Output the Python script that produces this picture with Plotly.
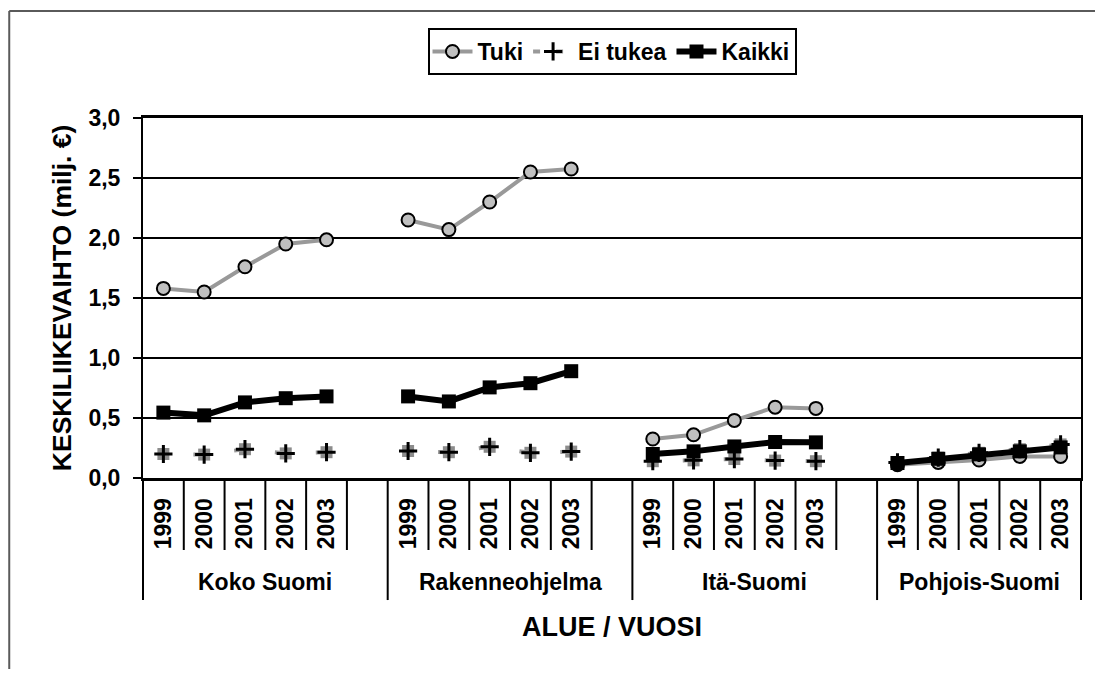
import plotly.graph_objects as go

# ---- data ----
groups = ["Koko Suomi", "Rakenneohjelma", "Itä-Suomi", "Pohjois-Suomi"]
years = ["1999", "2000", "2001", "2002", "2003"]
tuki = [1.58, 1.55, 1.76, 1.95, 1.985,
        2.15, 2.07, 2.30, 2.55, 2.575,
        0.325, 0.36, 0.48, 0.59, 0.58,
        0.11, 0.13, 0.15, 0.18, 0.18]
ei_tukea = [0.20, 0.195, 0.24, 0.205, 0.215,
            0.225, 0.215, 0.26, 0.21, 0.22,
            0.14, 0.147, 0.158, 0.145, 0.14,
            0.13, 0.17, 0.21, 0.24, 0.28]
kaikki = [0.545, 0.522, 0.63, 0.665, 0.68,
          0.68, 0.638, 0.755, 0.79, 0.89,
          0.20, 0.222, 0.263, 0.30, 0.297,
          0.125, 0.16, 0.197, 0.222, 0.255]
y_ticks = [0, 0.5, 1.0, 1.5, 2.0, 2.5, 3.0]

# ---- category positions (each group = 5 years + one empty slot, last group without slot) ----
n_years = len(years)
slot = n_years + 1
n_cat = slot * len(groups) - 1
pos = [slot * g + j for g in range(len(groups)) for j in range(n_years)]


def with_gaps(vals):
    xs, ys = [], []
    for g in range(len(groups)):
        for j in range(n_years):
            k = g * n_years + j
            xs.append(pos[k])
            ys.append(vals[k])
        xs.append(None)
        ys.append(None)
    return xs, ys


FONT = "Liberation Sans, Arial, sans-serif"
GRAY = "#999999"
fig = go.Figure()

# Tuki
xt, yt = with_gaps(tuki)
fig.add_trace(go.Scatter(
    x=xt, y=yt, name="Tuki", mode="lines+markers",
    line=dict(color=GRAY, width=4),
    marker=dict(symbol="circle", size=13, color="#c0c0c0",
                line=dict(color="black", width=2)),
))

# Ei tukea: gray square background + dashed line with black cross
xe, ye = with_gaps(ei_tukea)
fig.add_trace(go.Scatter(
    x=xe, y=ye, name="Ei tukea", mode="markers", showlegend=False,
    legendgroup="ei",
    marker=dict(symbol="square", size=12, color="#8c8c8c"),
))
fig.add_trace(go.Scatter(
    x=xe, y=ye, name="Ei tukea", mode="lines+markers", showlegend=False,
    legendgroup="ei",
    line=dict(color=GRAY, width=4, dash="0px,30px,11px,0px"),
    marker=dict(symbol="cross-thin", size=13, color="black",
                line=dict(color="black", width=3)),
))
# legend entry for Ei tukea
fig.add_trace(go.Scatter(
    x=[None], y=[None], name="Ei tukea", mode="lines+markers", legendgroup="ei",
    line=dict(color=GRAY, width=4, dash="7px,16px"),
    marker=dict(symbol="cross-thin", size=13, color="black",
                line=dict(color="black", width=3)),
))

# Kaikki
xk, yk = with_gaps(kaikki)
fig.add_trace(go.Scatter(
    x=xk, y=yk, name="Kaikki", mode="lines+markers",
    line=dict(color="black", width=6),
    marker=dict(symbol="square", size=14, color="black"),
))

# ---- separators below the x axis ----
shapes = []
group_bounds = [slot * g - 0.5 for g in range(len(groups))] + [n_cat - 0.5]
for b in range(n_cat + 1):
    xb = b - 0.5
    xp = (xb + 0.5) / n_cat
    y_end = -0.339 if xb in group_bounds else -0.2
    shapes.append(dict(type="line", xref="paper", yref="paper",
                       x0=xp, x1=xp, y0=0, y1=y_end,
                       line=dict(color="black", width=2)))
# outer frame of the picture (left and top edges visible)
shapes.append(dict(type="line", xref="paper", yref="paper",
                   x0=-0.1426, x1=-0.1426, y0=1.297, y1=-0.6,
                   line=dict(color="#5a5a5a", width=2)))
shapes.append(dict(type="line", xref="paper", yref="paper",
                   x0=-0.1426, x1=1.1, y0=1.297, y1=1.297,
                   line=dict(color="#5a5a5a", width=2)))

annotations = []
for g, name in enumerate(groups):
    lo = group_bounds[g]
    hi = group_bounds[g + 1]
    cx = ((lo + hi) / 2 + 0.5) / n_cat
    annotations.append(dict(text=name, xref="paper", yref="paper", x=cx, y=-0.289,
                            xanchor="center", yanchor="middle", showarrow=False,
                            font=dict(family=FONT, size=23, color="black", weight="bold")))
annotations.append(dict(text="ALUE / VUOSI", xref="paper", yref="paper", x=0.5, y=-0.414,
                        xanchor="center", yanchor="middle", showarrow=False,
                        font=dict(family=FONT, size=27, color="black", weight="bold")))
annotations.append(dict(text="KESKILIIKEVAIHTO (milj. €)", xref="paper", yref="paper",
                        x=-0.0862, y=0.5, xanchor="center", yanchor="middle",
                        textangle=-90, showarrow=False,
                        font=dict(family=FONT, size=26.5, color="black", weight="bold")))

fig.update_layout(
    width=1087, height=661,
    margin=dict(l=135, r=12, t=110, b=191),
    paper_bgcolor="white", plot_bgcolor="white",
    separators=", ",
    font=dict(family=FONT, color="black", weight="bold"),
    showlegend=True,
    legend=dict(orientation="h", x=0.5, xanchor="center", y=1.25, yanchor="top",
                bordercolor="black", borderwidth=2, bgcolor="white",
                font=dict(family=FONT, size=23, color="black", weight="bold"),
                itemwidth=40, tracegroupgap=0, itemsizing="trace"),
    xaxis=dict(range=[-0.5, n_cat - 0.5], tickmode="array", tickvals=pos,
               ticktext=years * len(groups), tickangle=-90, ticks="",
               ticklabelstandoff=8,
               tickfont=dict(family=FONT, size=23, color="black", weight="bold"),
               showgrid=False, zeroline=False, showline=True, linecolor="black",
               linewidth=3, mirror=True),
    yaxis=dict(range=[0, 3], tickmode="array", tickvals=y_ticks, tickformat=".1f",
               ticks="outside", ticklen=8, tickwidth=2, tickcolor="black",
               ticklabelstandoff=8,
               tickfont=dict(family=FONT, size=23, color="black", weight="bold"),
               showgrid=True, gridcolor="black", gridwidth=2, zeroline=False,
               showline=True, linecolor="black", linewidth=2, mirror=True),
    shapes=shapes,
    annotations=annotations,
)

fig.write_html("out.html")
